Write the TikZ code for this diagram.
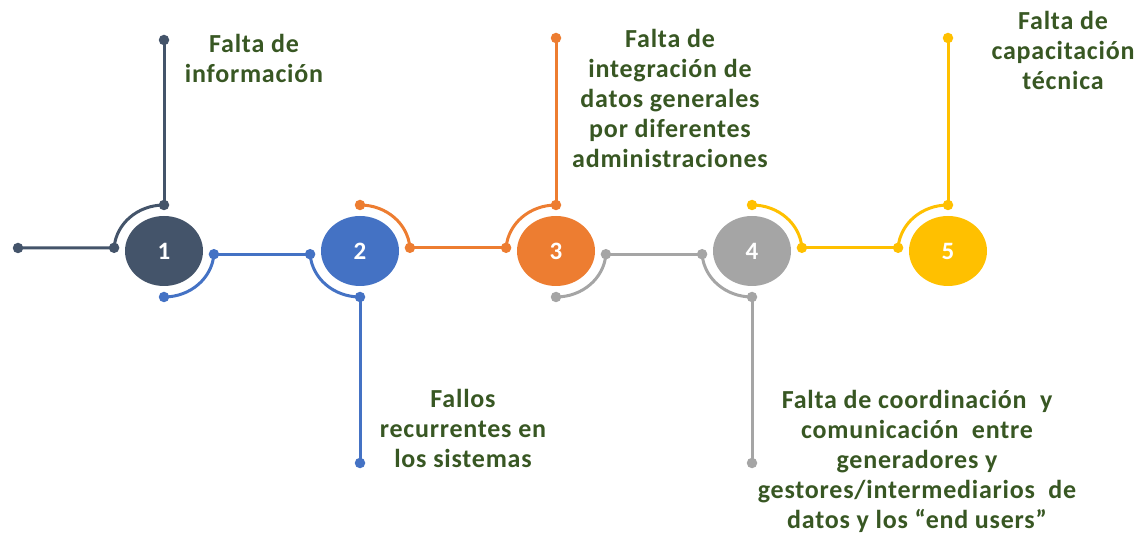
\documentclass[tikz,border=0pt]{standalone}
\usepackage{fontspec}
\setmainfont{Carlito}
\usetikzlibrary{shapes.geometric}
\definecolor{cslate}{HTML}{44546A}
\definecolor{cblue}{HTML}{4472C4}
\definecolor{corange}{HTML}{ED7D31}
\definecolor{cgray}{HTML}{A5A5A5}
\definecolor{cyellow}{HTML}{FFC000}
\definecolor{tgreen}{HTML}{385723}
\tikzset{
  dotnode/.style={circle, fill=#1, inner sep=0pt, minimum size=10.5pt},
  numnode/.style={ellipse, fill=#1, inner sep=0pt, minimum width=78pt, minimum height=70pt, text=white, font=\bfseries\fontsize{25}{30}\selectfont},
  lbl/.style={align=center, font=\bfseries\fontsize{26}{30}\selectfont\addfontfeature{LetterSpace=3}, text=tgreen, inner sep=0pt},
  seg/.style={draw=#1, line width=3pt},
  arcs/.style={x radius=50pt, y radius=46pt}
}
\begin{document}
\begin{tikzpicture}[x=1pt,y=-1pt]
\useasboundingbox (0,0) rectangle (1138,534);
% number circles
\node[numnode=cslate]  (n1) at (164,251) {1};
\node[numnode=cblue]   (n2) at (360,251) {2};
\node[numnode=corange] (n3) at (556,251) {3};
\node[numnode=cgray]   (n4) at (752,251) {4};
\node[numnode=cyellow] (n5) at (948,251) {5};
% slate
\node[dotnode=cslate] (s0) at (18,248) {};
\node[dotnode=cslate] (s1) at (114.1,247.8) {};
\node[dotnode=cslate] (s2) at (164,205) {};
\node[dotnode=cslate] (s3) at (164,40) {};
\draw[seg=cslate] (s0.center) -- (s1.center);
\draw[seg=cslate] (s1.center) arc[start angle=176, end angle=90, arcs];
\draw[seg=cslate] (s2.center) -- (s3.center);
% blue
\node[dotnode=cblue] (b1) at (213.9,254.2) {};
\node[dotnode=cblue] (b2) at (164,297) {};
\node[dotnode=cblue] (b3) at (310.1,254.2) {};
\node[dotnode=cblue] (b4) at (360,297) {};
\node[dotnode=cblue] (b5) at (360,463) {};
\draw[seg=cblue] (b1.center) arc[start angle=-4, end angle=-90, arcs];
\draw[seg=cblue] (b1.center) -- (b3.center);
\draw[seg=cblue] (b3.center) arc[start angle=184, end angle=270, arcs];
\draw[seg=cblue] (b4.center) -- (b5.center);
% orange
\node[dotnode=corange] (o1) at (360,205) {};
\node[dotnode=corange] (o2) at (409.9,247.8) {};
\node[dotnode=corange] (o3) at (506.1,247.8) {};
\node[dotnode=corange] (o4) at (556,205) {};
\node[dotnode=corange] (o5) at (556,38) {};
\draw[seg=corange] (o1.center) arc[start angle=90, end angle=4, arcs];
\draw[seg=corange] (o2.center) -- (o3.center);
\draw[seg=corange] (o3.center) arc[start angle=176, end angle=90, arcs];
\draw[seg=corange] (o4.center) -- (o5.center);
% gray
\node[dotnode=cgray] (g1) at (605.9,254.2) {};
\node[dotnode=cgray] (g2) at (556,297) {};
\node[dotnode=cgray] (g3) at (702.1,254.2) {};
\node[dotnode=cgray] (g4) at (752,297) {};
\node[dotnode=cgray] (g5) at (752,463) {};
\draw[seg=cgray] (g1.center) arc[start angle=-4, end angle=-90, arcs];
\draw[seg=cgray] (g1.center) -- (g3.center);
\draw[seg=cgray] (g3.center) arc[start angle=184, end angle=270, arcs];
\draw[seg=cgray] (g4.center) -- (g5.center);
% yellow
\node[dotnode=cyellow] (y1) at (752,205) {};
\node[dotnode=cyellow] (y2) at (801.9,247.8) {};
\node[dotnode=cyellow] (y3) at (898.1,247.8) {};
\node[dotnode=cyellow] (y4) at (948,205) {};
\node[dotnode=cyellow] (y5) at (948,38) {};
\draw[seg=cyellow] (y1.center) arc[start angle=90, end angle=4, arcs];
\draw[seg=cyellow] (y2.center) -- (y3.center);
\draw[seg=cyellow] (y3.center) arc[start angle=176, end angle=90, arcs];
\draw[seg=cyellow] (y4.center) -- (y5.center);
% labels
\node[lbl] (t1) at (254,58) {Falta de\\información};
\node[lbl] (t3) at (670,98) {Falta de\\integración de\\datos generales\\por diferentes\\administraciones};
\node[lbl] (t5) at (1063,50) {Falta de\\capacitación\\técnica};
\node[lbl] (t2) at (463,428) {Fallos\\recurrentes en\\los sistemas};
\node[lbl] (t4) at (917,461) {Falta de coordinación\ \ y\\comunicación\ \ entre\\generadores y\\gestores/intermediarios\ \ de\\datos y los “end users”};
\end{tikzpicture}
\end{document}
